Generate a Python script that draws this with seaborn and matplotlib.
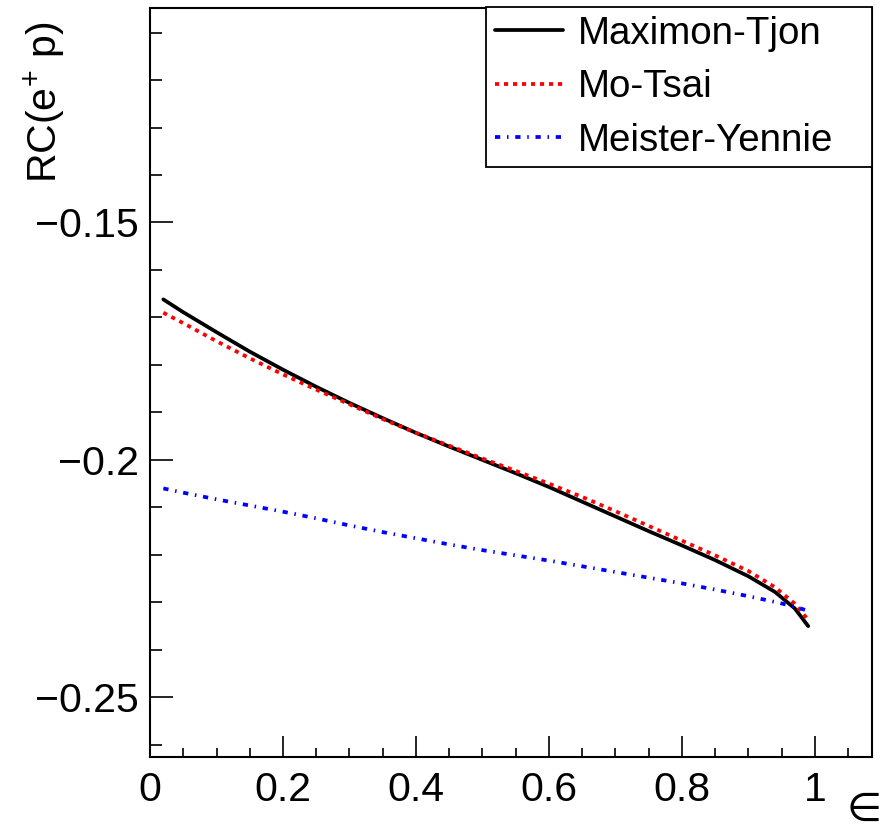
import matplotlib
matplotlib.use("Agg")
import matplotlib.pyplot as plt
from matplotlib.ticker import MultipleLocator
import numpy as np
import pandas as pd
import seaborn as sns

# Radiative correction for e+ p scattering versus virtual photon polarization
eps = [0.02, 0.05, 0.10, 0.15, 0.20, 0.25, 0.30, 0.35, 0.40, 0.45, 0.50,
       0.55, 0.60, 0.65, 0.70, 0.75, 0.80, 0.85, 0.90, 0.94, 0.97, 0.99]
rc_maximon_tjon = [-0.1662, -0.1689, -0.1731, -0.1772, -0.1810, -0.1846, -0.1880,
                   -0.1912, -0.1943, -0.1972, -0.2000, -0.2028, -0.2057, -0.2088,
                   -0.2119, -0.2150, -0.2180, -0.2211, -0.2245, -0.2278, -0.2313,
                   -0.2350]
rc_mo_tsai = [-0.1690, -0.1712, -0.1750, -0.1786, -0.1820, -0.1852, -0.1883,
              -0.1914, -0.1943, -0.1970, -0.1997, -0.2023, -0.2050, -0.2078,
              -0.2108, -0.2139, -0.2170, -0.2201, -0.2234, -0.2268, -0.2303,
              -0.2337]
rc_meister_yennie = [-0.2060, -0.2069, -0.2083, -0.2096, -0.2109, -0.2123, -0.2138,
                     -0.2152, -0.2165, -0.2178, -0.2190, -0.2201, -0.2212, -0.2224,
                     -0.2236, -0.2248, -0.2260, -0.2273, -0.2287, -0.2299, -0.2309,
                     -0.2318]
models = ["Maximon-Tjon", "Mo-Tsai", "Meister-Yennie"]

df = pd.DataFrame({
    "eps": eps * 3,
    "rc": rc_maximon_tjon + rc_mo_tsai + rc_meister_yennie,
    "model": [models[0]] * len(eps) + [models[1]] * len(eps) + [models[2]] * len(eps),
})

sns.set_style("white")
plt.rcParams["font.family"] = ["Liberation Sans", "DejaVu Sans"]
plt.rcParams["mathtext.default"] = "regular"
for key in ("text.color", "axes.labelcolor", "xtick.color", "ytick.color",
            "axes.edgecolor"):
    plt.rcParams[key] = "black"

fig = plt.figure(figsize=(8.91, 8.31), dpi=100)
ax = fig.add_axes([0.1684, 0.0894, 0.8103, 0.9006])

palette = {"Maximon-Tjon": "#000000", "Mo-Tsai": "#ff0000", "Meister-Yennie": "#0000ff"}
dashes = {"Maximon-Tjon": "", "Mo-Tsai": (1.1, 1.3), "Meister-Yennie": (1.4, 1.8, 0.4, 1.8)}
line_w = 2.7

sns.lineplot(data=df, x="eps", y="rc", hue="model", style="model",
             palette=palette, dashes=dashes, hue_order=models, style_order=models,
             linewidth=line_w, ax=ax, legend=True)

ax.set_xlim(0, 1.086)
ax.set_ylim(-0.2625, -0.1049)
ax.set_xticks([0, 0.2, 0.4, 0.6, 0.8, 1.0])
ax.set_xticklabels(["0", "0.2", "0.4", "0.6", "0.8", "1"])
ax.set_yticks([-0.25, -0.2, -0.15])
ax.set_yticklabels(["\u22120.25", "\u22120.2", "\u22120.15"])
ax.xaxis.set_minor_locator(MultipleLocator(0.05))
ax.yaxis.set_minor_locator(MultipleLocator(0.01))
ax.tick_params(axis="both", which="both", direction="in", bottom=True, left=True,
               top=False, right=False, color="black", width=1.2)
ax.tick_params(axis="x", which="major", length=15, pad=10, labelsize=29.5)
ax.tick_params(axis="x", which="minor", length=6.7)
ax.tick_params(axis="y", which="major", length=16.5, pad=8, labelsize=29.5)
ax.tick_params(axis="y", which="minor", length=8.4)

for sp in ax.spines.values():
    sp.set_color("black")
    sp.set_linewidth(1.5)

ax.set_xlabel("")
ax.set_ylabel("")
fig.text(45 / 891, 1 - 22 / 831, "RC(e$^{+}$ p)", rotation=90, ha="center",
         va="top", fontsize=29.5)
fig.text(882 / 891, 10 / 831, "\u2208", ha="right", va="baseline", fontsize=29,
         family=["DejaVu Sans"])

leg = ax.legend(loc="upper left", bbox_to_anchor=(0.4654, 0.7882, 0.5346, 0.2135),
                mode="expand", fontsize=27.7, frameon=True, fancybox=False,
                borderaxespad=0, borderpad=0.22, handlelength=1.77,
                handletextpad=0.4, labelspacing=0.46)
leg.get_frame().set_edgecolor("black")
leg.get_frame().set_linewidth(1.3)
leg.get_frame().set_alpha(1)
for line in leg.get_lines():
    line.set_linewidth(line_w)

fig.savefig("out.png", dpi=100, facecolor="white")
